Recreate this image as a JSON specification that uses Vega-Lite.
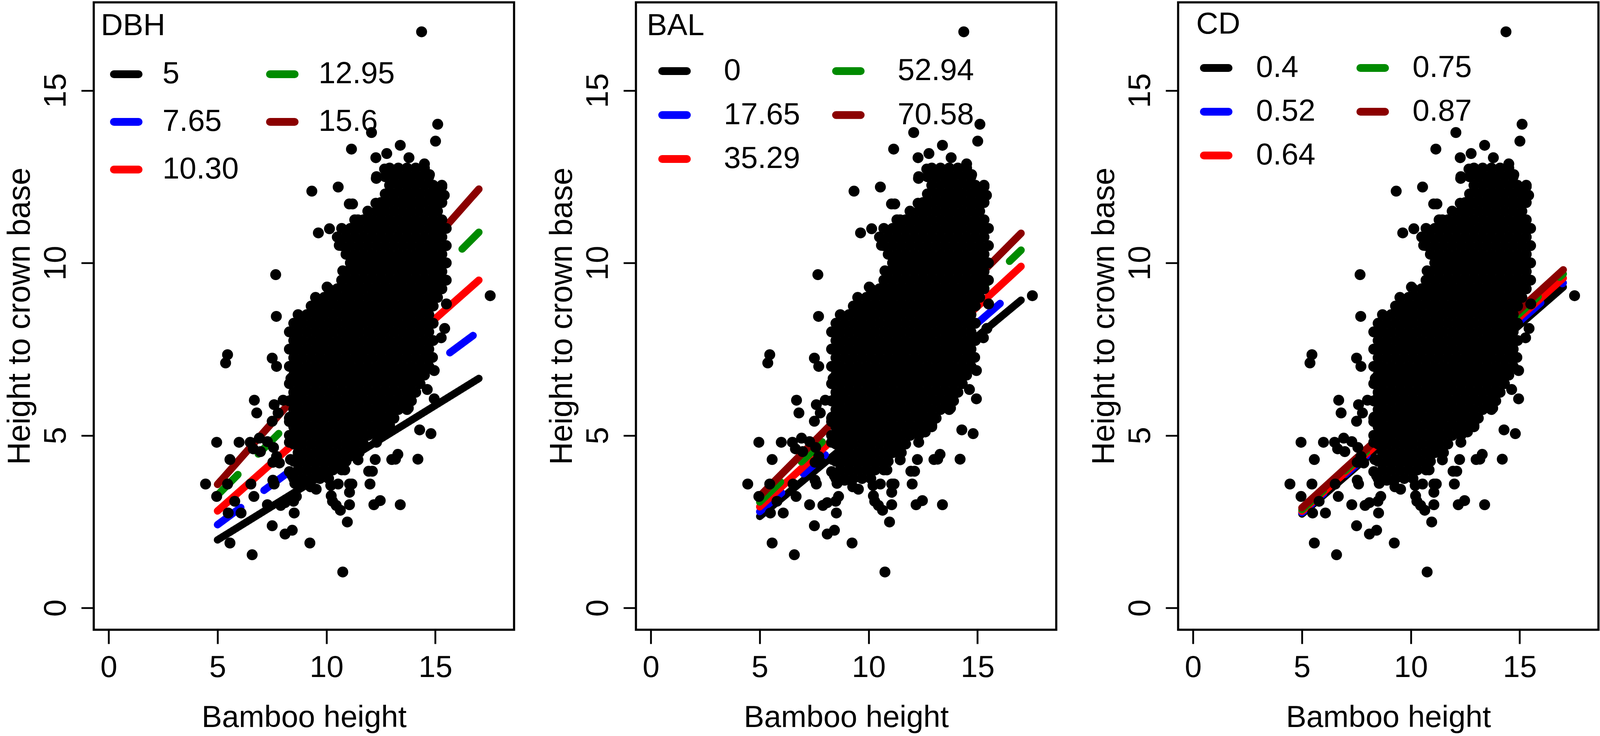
{
  "$schema": "https://vega.github.io/schema/vega-lite/v6.json",
  "autosize": {"type": "pad"},
  "padding": {"left": 8, "top": 3, "right": 0, "bottom": 0},
  "background": "white",
  "spacing": 312,
  "bounds": "flush",
  "resolve": {"scale": {"color": "independent", "strokeDash": "independent"}, "legend": {"color": "independent", "strokeDash": "independent"}},
  "datasets": {
    "dbh": [
      {"g":"5","x":5,"y":1.97},{"g":"5","x":17,"y":6.65},
      {"g":"7.65","x":5,"y":2.41},{"g":"7.65","x":17,"y":8.02},
      {"g":"10.30","x":5,"y":2.81},{"g":"10.30","x":17,"y":9.50},
      {"g":"12.95","x":5,"y":3.27},{"g":"12.95","x":17,"y":10.89},
      {"g":"15.6","x":5,"y":3.58},{"g":"15.6","x":17,"y":12.14}
    ],
    "bal": [
      {"g":"0","x":5,"y":2.65},{"g":"0","x":17,"y":8.92},
      {"g":"17.65","x":5,"y":2.79},{"g":"17.65","x":17,"y":9.35},
      {"g":"35.29","x":5,"y":2.93},{"g":"35.29","x":17,"y":9.90},
      {"g":"52.94","x":5,"y":3.07},{"g":"52.94","x":17,"y":10.37},
      {"g":"70.58","x":5,"y":3.24},{"g":"70.58","x":17,"y":10.86}
    ],
    "cd": [
      {"g":"0.4","x":5,"y":2.72},{"g":"0.4","x":17,"y":9.30},
      {"g":"0.52","x":5,"y":2.76},{"g":"0.52","x":17,"y":9.42},
      {"g":"0.64","x":5,"y":2.80},{"g":"0.64","x":17,"y":9.56},
      {"g":"0.75","x":5,"y":2.85},{"g":"0.75","x":17,"y":9.68},
      {"g":"0.87","x":5,"y":2.90},{"g":"0.87","x":17,"y":9.80}
    ],
    "pts": [
      {"x":12.9,"y":12.75},{"x":13.3,"y":12.75},{"x":13.7,"y":12.75},{"x":14.1,"y":12.75},{"x":14.5,"y":12.75},
      {"x":12.3,"y":12.5},{"x":12.7,"y":12.5},{"x":13.1,"y":12.5},{"x":13.5,"y":12.5},{"x":13.9,"y":12.5},{"x":14.3,"y":12.5},{"x":14.7,"y":12.5},
      {"x":12.9,"y":12.25},{"x":13.3,"y":12.25},{"x":13.7,"y":12.25},{"x":14.1,"y":12.25},{"x":14.5,"y":12.25},{"x":14.9,"y":12.25},{"x":15.3,"y":12.25},
      {"x":12.7,"y":12.0},{"x":13.1,"y":12.0},{"x":13.5,"y":12.0},{"x":13.9,"y":12.0},{"x":14.3,"y":12.0},{"x":14.7,"y":12.0},{"x":15.1,"y":12.0},
      {"x":12.5,"y":11.75},{"x":12.9,"y":11.75},{"x":13.3,"y":11.75},{"x":13.7,"y":11.75},{"x":14.1,"y":11.75},{"x":14.5,"y":11.75},{"x":14.9,"y":11.75},{"x":15.3,"y":11.75},
      {"x":11.9,"y":11.5},{"x":12.3,"y":11.5},{"x":12.7,"y":11.5},{"x":13.1,"y":11.5},{"x":13.5,"y":11.5},{"x":13.9,"y":11.5},{"x":14.3,"y":11.5},{"x":14.7,"y":11.5},{"x":15.1,"y":11.5},
      {"x":11.3,"y":11.25},{"x":11.7,"y":11.25},{"x":12.1,"y":11.25},{"x":12.5,"y":11.25},{"x":12.9,"y":11.25},{"x":13.3,"y":11.25},{"x":13.7,"y":11.25},{"x":14.1,"y":11.25},{"x":14.5,"y":11.25},{"x":14.9,"y":11.25},{"x":15.3,"y":11.25},
      {"x":10.7,"y":11.0},{"x":11.1,"y":11.0},{"x":11.5,"y":11.0},{"x":11.9,"y":11.0},{"x":12.3,"y":11.0},{"x":12.7,"y":11.0},{"x":13.1,"y":11.0},{"x":13.5,"y":11.0},{"x":13.9,"y":11.0},{"x":14.3,"y":11.0},{"x":14.7,"y":11.0},{"x":15.1,"y":11.0},{"x":15.5,"y":11.0},
      {"x":10.5,"y":10.75},{"x":10.9,"y":10.75},{"x":11.3,"y":10.75},{"x":11.7,"y":10.75},{"x":12.1,"y":10.75},{"x":12.5,"y":10.75},{"x":12.9,"y":10.75},{"x":13.3,"y":10.75},{"x":13.7,"y":10.75},{"x":14.1,"y":10.75},{"x":14.5,"y":10.75},{"x":14.9,"y":10.75},{"x":15.3,"y":10.75},
      {"x":10.7,"y":10.5},{"x":11.1,"y":10.5},{"x":11.5,"y":10.5},{"x":11.9,"y":10.5},{"x":12.3,"y":10.5},{"x":12.7,"y":10.5},{"x":13.1,"y":10.5},{"x":13.5,"y":10.5},{"x":13.9,"y":10.5},{"x":14.3,"y":10.5},{"x":14.7,"y":10.5},{"x":15.1,"y":10.5},{"x":15.5,"y":10.5},
      {"x":10.9,"y":10.25},{"x":11.3,"y":10.25},{"x":11.7,"y":10.25},{"x":12.1,"y":10.25},{"x":12.5,"y":10.25},{"x":12.9,"y":10.25},{"x":13.3,"y":10.25},{"x":13.7,"y":10.25},{"x":14.1,"y":10.25},{"x":14.5,"y":10.25},{"x":14.9,"y":10.25},{"x":15.3,"y":10.25},
      {"x":11.1,"y":10.0},{"x":11.5,"y":10.0},{"x":11.9,"y":10.0},{"x":12.3,"y":10.0},{"x":12.7,"y":10.0},{"x":13.1,"y":10.0},{"x":13.5,"y":10.0},{"x":13.9,"y":10.0},{"x":14.3,"y":10.0},{"x":14.7,"y":10.0},{"x":15.1,"y":10.0},{"x":15.5,"y":10.0},
      {"x":10.9,"y":9.75},{"x":11.3,"y":9.75},{"x":11.7,"y":9.75},{"x":12.1,"y":9.75},{"x":12.5,"y":9.75},{"x":12.9,"y":9.75},{"x":13.3,"y":9.75},{"x":13.7,"y":9.75},{"x":14.1,"y":9.75},{"x":14.5,"y":9.75},{"x":14.9,"y":9.75},{"x":15.3,"y":9.75},
      {"x":10.7,"y":9.5},{"x":11.1,"y":9.5},{"x":11.5,"y":9.5},{"x":11.9,"y":9.5},{"x":12.3,"y":9.5},{"x":12.7,"y":9.5},{"x":13.1,"y":9.5},{"x":13.5,"y":9.5},{"x":13.9,"y":9.5},{"x":14.3,"y":9.5},{"x":14.7,"y":9.5},{"x":15.1,"y":9.5},{"x":15.5,"y":9.5},
      {"x":10.1,"y":9.25},{"x":10.5,"y":9.25},{"x":10.9,"y":9.25},{"x":11.3,"y":9.25},{"x":11.7,"y":9.25},{"x":12.1,"y":9.25},{"x":12.5,"y":9.25},{"x":12.9,"y":9.25},{"x":13.3,"y":9.25},{"x":13.7,"y":9.25},{"x":14.1,"y":9.25},{"x":14.5,"y":9.25},{"x":14.9,"y":9.25},{"x":15.3,"y":9.25},
      {"x":9.5,"y":9.0},{"x":9.9,"y":9.0},{"x":10.3,"y":9.0},{"x":10.7,"y":9.0},{"x":11.1,"y":9.0},{"x":11.5,"y":9.0},{"x":11.9,"y":9.0},{"x":12.3,"y":9.0},{"x":12.7,"y":9.0},{"x":13.1,"y":9.0},{"x":13.5,"y":9.0},{"x":13.9,"y":9.0},{"x":14.3,"y":9.0},{"x":14.7,"y":9.0},{"x":15.1,"y":9.0},
      {"x":9.3,"y":8.75},{"x":9.7,"y":8.75},{"x":10.1,"y":8.75},{"x":10.5,"y":8.75},{"x":10.9,"y":8.75},{"x":11.3,"y":8.75},{"x":11.7,"y":8.75},{"x":12.1,"y":8.75},{"x":12.5,"y":8.75},{"x":12.9,"y":8.75},{"x":13.3,"y":8.75},{"x":13.7,"y":8.75},{"x":14.1,"y":8.75},{"x":14.5,"y":8.75},{"x":14.9,"y":8.75},
      {"x":8.7,"y":8.5},{"x":9.1,"y":8.5},{"x":9.5,"y":8.5},{"x":9.9,"y":8.5},{"x":10.3,"y":8.5},{"x":10.7,"y":8.5},{"x":11.1,"y":8.5},{"x":11.5,"y":8.5},{"x":11.9,"y":8.5},{"x":12.3,"y":8.5},{"x":12.7,"y":8.5},{"x":13.1,"y":8.5},{"x":13.5,"y":8.5},{"x":13.9,"y":8.5},{"x":14.3,"y":8.5},{"x":14.7,"y":8.5},
      {"x":8.5,"y":8.25},{"x":8.9,"y":8.25},{"x":9.3,"y":8.25},{"x":9.7,"y":8.25},{"x":10.1,"y":8.25},{"x":10.5,"y":8.25},{"x":10.9,"y":8.25},{"x":11.3,"y":8.25},{"x":11.7,"y":8.25},{"x":12.1,"y":8.25},{"x":12.5,"y":8.25},{"x":12.9,"y":8.25},{"x":13.3,"y":8.25},{"x":13.7,"y":8.25},{"x":14.1,"y":8.25},{"x":14.5,"y":8.25},{"x":14.9,"y":8.25},
      {"x":8.3,"y":8.0},{"x":8.7,"y":8.0},{"x":9.1,"y":8.0},{"x":9.5,"y":8.0},{"x":9.9,"y":8.0},{"x":10.3,"y":8.0},{"x":10.7,"y":8.0},{"x":11.1,"y":8.0},{"x":11.5,"y":8.0},{"x":11.9,"y":8.0},{"x":12.3,"y":8.0},{"x":12.7,"y":8.0},{"x":13.1,"y":8.0},{"x":13.5,"y":8.0},{"x":13.9,"y":8.0},{"x":14.3,"y":8.0},{"x":14.7,"y":8.0},
      {"x":8.5,"y":7.75},{"x":8.9,"y":7.75},{"x":9.3,"y":7.75},{"x":9.7,"y":7.75},{"x":10.1,"y":7.75},{"x":10.5,"y":7.75},{"x":10.9,"y":7.75},{"x":11.3,"y":7.75},{"x":11.7,"y":7.75},{"x":12.1,"y":7.75},{"x":12.5,"y":7.75},{"x":12.9,"y":7.75},{"x":13.3,"y":7.75},{"x":13.7,"y":7.75},{"x":14.1,"y":7.75},{"x":14.5,"y":7.75},{"x":14.9,"y":7.75},
      {"x":8.3,"y":7.5},{"x":8.7,"y":7.5},{"x":9.1,"y":7.5},{"x":9.5,"y":7.5},{"x":9.9,"y":7.5},{"x":10.3,"y":7.5},{"x":10.7,"y":7.5},{"x":11.1,"y":7.5},{"x":11.5,"y":7.5},{"x":11.9,"y":7.5},{"x":12.3,"y":7.5},{"x":12.7,"y":7.5},{"x":13.1,"y":7.5},{"x":13.5,"y":7.5},{"x":13.9,"y":7.5},{"x":14.3,"y":7.5},{"x":14.7,"y":7.5},
      {"x":8.5,"y":7.25},{"x":8.9,"y":7.25},{"x":9.3,"y":7.25},{"x":9.7,"y":7.25},{"x":10.1,"y":7.25},{"x":10.5,"y":7.25},{"x":10.9,"y":7.25},{"x":11.3,"y":7.25},{"x":11.7,"y":7.25},{"x":12.1,"y":7.25},{"x":12.5,"y":7.25},{"x":12.9,"y":7.25},{"x":13.3,"y":7.25},{"x":13.7,"y":7.25},{"x":14.1,"y":7.25},{"x":14.5,"y":7.25},
      {"x":8.3,"y":7.0},{"x":8.7,"y":7.0},{"x":9.1,"y":7.0},{"x":9.5,"y":7.0},{"x":9.9,"y":7.0},{"x":10.3,"y":7.0},{"x":10.7,"y":7.0},{"x":11.1,"y":7.0},{"x":11.5,"y":7.0},{"x":11.9,"y":7.0},{"x":12.3,"y":7.0},{"x":12.7,"y":7.0},{"x":13.1,"y":7.0},{"x":13.5,"y":7.0},{"x":13.9,"y":7.0},{"x":14.3,"y":7.0},{"x":14.7,"y":7.0},
      {"x":8.5,"y":6.75},{"x":8.9,"y":6.75},{"x":9.3,"y":6.75},{"x":9.7,"y":6.75},{"x":10.1,"y":6.75},{"x":10.5,"y":6.75},{"x":10.9,"y":6.75},{"x":11.3,"y":6.75},{"x":11.7,"y":6.75},{"x":12.1,"y":6.75},{"x":12.5,"y":6.75},{"x":12.9,"y":6.75},{"x":13.3,"y":6.75},{"x":13.7,"y":6.75},{"x":14.1,"y":6.75},{"x":14.5,"y":6.75},
      {"x":8.3,"y":6.5},{"x":8.7,"y":6.5},{"x":9.1,"y":6.5},{"x":9.5,"y":6.5},{"x":9.9,"y":6.5},{"x":10.3,"y":6.5},{"x":10.7,"y":6.5},{"x":11.1,"y":6.5},{"x":11.5,"y":6.5},{"x":11.9,"y":6.5},{"x":12.3,"y":6.5},{"x":12.7,"y":6.5},{"x":13.1,"y":6.5},{"x":13.5,"y":6.5},{"x":13.9,"y":6.5},{"x":14.3,"y":6.5},
      {"x":8.5,"y":6.25},{"x":8.9,"y":6.25},{"x":9.3,"y":6.25},{"x":9.7,"y":6.25},{"x":10.1,"y":6.25},{"x":10.5,"y":6.25},{"x":10.9,"y":6.25},{"x":11.3,"y":6.25},{"x":11.7,"y":6.25},{"x":12.1,"y":6.25},{"x":12.5,"y":6.25},{"x":12.9,"y":6.25},{"x":13.3,"y":6.25},{"x":13.7,"y":6.25},{"x":14.1,"y":6.25},
      {"x":8.3,"y":6.0},{"x":8.7,"y":6.0},{"x":9.1,"y":6.0},{"x":9.5,"y":6.0},{"x":9.9,"y":6.0},{"x":10.3,"y":6.0},{"x":10.7,"y":6.0},{"x":11.1,"y":6.0},{"x":11.5,"y":6.0},{"x":11.9,"y":6.0},{"x":12.3,"y":6.0},{"x":12.7,"y":6.0},{"x":13.1,"y":6.0},{"x":13.5,"y":6.0},{"x":13.9,"y":6.0},
      {"x":8.5,"y":5.75},{"x":8.9,"y":5.75},{"x":9.3,"y":5.75},{"x":9.7,"y":5.75},{"x":10.1,"y":5.75},{"x":10.5,"y":5.75},{"x":10.9,"y":5.75},{"x":11.3,"y":5.75},{"x":11.7,"y":5.75},{"x":12.1,"y":5.75},{"x":12.5,"y":5.75},{"x":12.9,"y":5.75},{"x":13.3,"y":5.75},{"x":13.7,"y":5.75},
      {"x":8.3,"y":5.5},{"x":8.7,"y":5.5},{"x":9.1,"y":5.5},{"x":9.5,"y":5.5},{"x":9.9,"y":5.5},{"x":10.3,"y":5.5},{"x":10.7,"y":5.5},{"x":11.1,"y":5.5},{"x":11.5,"y":5.5},{"x":11.9,"y":5.5},{"x":12.3,"y":5.5},{"x":12.7,"y":5.5},{"x":13.1,"y":5.5},
      {"x":8.5,"y":5.25},{"x":8.9,"y":5.25},{"x":9.3,"y":5.25},{"x":9.7,"y":5.25},{"x":10.1,"y":5.25},{"x":10.5,"y":5.25},{"x":10.9,"y":5.25},{"x":11.3,"y":5.25},{"x":11.7,"y":5.25},{"x":12.1,"y":5.25},{"x":12.5,"y":5.25},{"x":12.9,"y":5.25},
      {"x":8.3,"y":5.0},{"x":8.7,"y":5.0},{"x":9.1,"y":5.0},{"x":9.5,"y":5.0},{"x":9.9,"y":5.0},{"x":10.3,"y":5.0},{"x":10.7,"y":5.0},{"x":11.1,"y":5.0},{"x":11.5,"y":5.0},{"x":11.9,"y":5.0},{"x":12.3,"y":5.0},
      {"x":8.5,"y":4.75},{"x":8.9,"y":4.75},{"x":9.3,"y":4.75},{"x":9.7,"y":4.75},{"x":10.1,"y":4.75},{"x":10.5,"y":4.75},{"x":10.9,"y":4.75},{"x":11.3,"y":4.75},{"x":11.7,"y":4.75},
      {"x":8.7,"y":4.5},{"x":9.1,"y":4.5},{"x":9.5,"y":4.5},{"x":9.9,"y":4.5},{"x":10.3,"y":4.5},{"x":10.7,"y":4.5},{"x":11.1,"y":4.5},{"x":11.5,"y":4.5},
      {"x":8.5,"y":4.25},{"x":8.9,"y":4.25},{"x":9.3,"y":4.25},{"x":9.7,"y":4.25},{"x":10.1,"y":4.25},{"x":10.5,"y":4.25},{"x":10.9,"y":4.25},
      {"x":8.7,"y":4.0},{"x":9.1,"y":4.0},{"x":9.5,"y":4.0},{"x":9.9,"y":4.0},{"x":10.3,"y":4.0},{"x":10.7,"y":4.0},
      {"x":8.5,"y":3.75},{"x":8.9,"y":3.75},{"x":9.3,"y":3.75},{"x":9.7,"y":3.75},{"x":10.1,"y":3.75},
      {"x":12.6,"y":5.1},{"x":12.9,"y":5.3},{"x":12.3,"y":4.8},{"x":8.3,"y":4.8},{"x":8.3,"y":5.4},{"x":8.3,"y":6.0},{"x":8.35,"y":4.3},{"x":8.3,"y":3.95},
      {"x":14.37,"y":16.70},{"x":15.11,"y":14.02},{"x":15.01,"y":13.53},{"x":12.07,"y":13.78},{"x":11.15,"y":13.30},{"x":13.39,"y":13.41},{"x":12.77,"y":13.17},{"x":12.27,"y":13.05},{"x":13.79,"y":13.05},
      {"x":9.33,"y":12.08},{"x":10.54,"y":12.20},{"x":11.05,"y":11.71},{"x":11.20,"y":11.71},{"x":9.63,"y":10.87},{"x":10.14,"y":10.99},{"x":12.67,"y":12.72},{"x":12.29,"y":12.45},{"x":13.17,"y":12.56},
      {"x":14.50,"y":12.87},{"x":14.73,"y":12.56},{"x":15.30,"y":12.21},{"x":15.41,"y":11.96},{"x":11.45,"y":11.25},{"x":12.27,"y":11.73},{"x":12.55,"y":11.73},{"x":10.59,"y":10.51},{"x":11.17,"y":10.03},
      {"x":10.75,"y":9.77},{"x":10.03,"y":9.30},{"x":15.51,"y":8.81},{"x":17.52,"y":9.05},{"x":7.67,"y":9.66},{"x":7.70,"y":8.45},{"x":5.46,"y":7.34},{"x":5.37,"y":7.10},
      {"x":7.51,"y":7.24},{"x":7.71,"y":7.00},{"x":8.32,"y":7.00},{"x":8.37,"y":6.65},{"x":8.52,"y":6.17},{"x":6.69,"y":6.02},{"x":6.80,"y":5.65},{"x":7.60,"y":5.89},{"x":8.01,"y":6.02},
      {"x":7.78,"y":5.65},{"x":7.51,"y":5.41},{"x":8.32,"y":5.53},{"x":4.96,"y":4.80},{"x":5.99,"y":4.80},{"x":6.50,"y":4.80},{"x":6.64,"y":4.61},{"x":6.92,"y":4.92},{"x":7.29,"y":4.82},
      {"x":5.57,"y":4.30},{"x":7.57,"y":4.65},{"x":7.71,"y":4.39},{"x":7.54,"y":4.22},{"x":7.84,"y":4.20},{"x":6.97,"y":4.53},{"x":4.45,"y":3.59},{"x":5.46,"y":3.59},{"x":4.96,"y":3.23},
      {"x":6.53,"y":3.59},{"x":6.67,"y":3.23},{"x":5.79,"y":3.09},{"x":5.49,"y":2.75},{"x":6.08,"y":2.75},{"x":7.54,"y":3.70},{"x":7.60,"y":3.59},{"x":8.43,"y":3.83},{"x":8.55,"y":3.61},
      {"x":7.29,"y":2.99},{"x":7.90,"y":2.97},{"x":8.52,"y":2.75},{"x":8.49,"y":3.09},{"x":8.62,"y":3.23},{"x":7.51,"y":2.38},{"x":8.10,"y":2.14},{"x":8.43,"y":2.25},{"x":5.57,"y":1.88},
      {"x":6.59,"y":1.54},{"x":9.24,"y":1.88},{"x":10.75,"y":1.04},{"x":10.96,"y":2.49},{"x":10.22,"y":3.25},{"x":10.28,"y":3.09},{"x":10.64,"y":2.83},{"x":10.45,"y":2.97},
      {"x":11.06,"y":3.59},{"x":11.06,"y":3.35},{"x":11.06,"y":2.99},{"x":10.54,"y":3.59},{"x":11.17,"y":3.59},{"x":12.00,"y":3.59},{"x":12.24,"y":4.30},{"x":12.11,"y":3.96},{"x":11.94,"y":3.96},
      {"x":12.18,"y":2.99},{"x":12.47,"y":3.11},{"x":13.00,"y":4.30},{"x":13.28,"y":4.45},{"x":13.17,"y":4.31},{"x":14.20,"y":4.31},{"x":13.39,"y":2.99},{"x":14.28,"y":5.16},{"x":14.80,"y":5.05},
      {"x":10.84,"y":4.00},{"x":11.45,"y":4.29},{"x":9.27,"y":3.51},{"x":9.53,"y":3.44},{"x":8.90,"y":3.70},{"x":10.20,"y":3.55},{"x":8.10,"y":3.05},
      {"x":14.95,"y":6.06},{"x":14.87,"y":7.26},{"x":15.43,"y":8.10},{"x":15.27,"y":7.83},{"x":14.95,"y":6.88},{"x":14.63,"y":6.33},{"x":13.84,"y":6.06},{"x":13.76,"y":5.79}
    ]
  },
  "config": {
    "font": "Liberation Sans",
    "view": {"stroke": "black", "strokeWidth": 5.5},
    "axis": {
      "grid": false, "domain": false, "ticks": true, "tickColor": "black", "tickWidth": 4.7,
      "labelFont": "Liberation Sans", "labelColor": "black", "format": "d",
      "titleFont": "Liberation Sans", "titleFontWeight": "normal", "titleColor": "black",
      "labelOverlap": false, "labelFlush": false, "labelBound": false
    },
    "axisX": {"tickSize": 36, "labelFontSize": 78, "titleFontSize": 78, "labelAngle": 0, "labelPadding": 22.2, "labelBaseline": "top", "labelAlign": "center", "titleY": 248, "titleBaseline": "alphabetic"},
    "axisY": {"tickSize": 32, "labelFontSize": 80, "titleFontSize": 81, "labelAngle": 270, "labelAlign": "center", "labelBaseline": "alphabetic", "labelPadding": 40.8, "titleAngle": 270, "titleX": -164.2, "titleBaseline": "alphabetic", "titleAlign": "center"},
    "legend": {
      "orient": "none", "columns": 2, "symbolType": "stroke", "symbolSize": 3994, "symbolStrokeWidth": 20,
      "labelFont": "Liberation Sans", "labelFontSize": 78, "labelColor": "black", "labelLimit": 0,
      "titleFont": "Liberation Sans", "titleFontSize": 78, "titleFontWeight": "normal", "titleColor": "black", "titleLimit": 2000,
      "titleAnchor": "start", "titleAlign": "left", "padding": 0, "gridAlign": "each"
    }
  },
  "hconcat": [
    {
      "width": 1076, "height": 1606,
      "layer": [
        {
          "data": {"name": "dbh"},
          "mark": {"type": "line", "strokeWidth": 19, "strokeCap": "round"},
          "encoding": {
            "x": {"field": "x", "type": "quantitative", "scale": {"domain": [-0.684, 18.616], "nice": false, "zero": false}, "axis": {"values": [0, 5, 10, 15], "title": "Bamboo height"}},
            "y": {"field": "y", "type": "quantitative", "scale": {"domain": [-0.634, 17.554], "nice": false, "zero": false}, "axis": {"values": [0, 5, 10, 15], "title": "Height to crown base"}},
            "color": {"field": "g", "type": "nominal",
              "scale": {"domain": ["5", "7.65", "10.30", "12.95", "15.6"], "range": ["#000000", "#0000FF", "#FF0000", "#008B00", "#8B0000"]},
              "legend": {"title": "DBH", "legendX": 18.3, "legendY": 22.4, "symbolOffset": 22.9, "labelOffset": 50.7, "columnPadding": 39.5, "rowPadding": 40, "titlePadding": 41.6,
                "labelExpr": "datum.label == '5' ? '\u00a0' + datum.label : (datum.label == '12.95' || datum.label == '15.6') ? '\u00a0\u00a0' + datum.label : datum.label",
                "encode": {"symbols": {"update": {"strokeCap": {"value": "round"}, "strokeDash": {"value": [1, 0]}}}}}},
            "strokeDash": {"field": "g", "type": "nominal",
              "scale": {"domain": ["5", "7.65", "10.30", "12.95", "15.6"], "range": [[1, 0], [74, 74], [1, 0], [74, 74], [1, 0]]},
              "legend": null}
          }
        },
        {
          "data": {"name": "pts"},
          "mark": {"type": "circle", "size": 784, "color": "black", "opacity": 1},
          "encoding": {
            "x": {"field": "x", "type": "quantitative"},
            "y": {"field": "y", "type": "quantitative"}
          }
        }
      ]
    },
    {
      "width": 1076, "height": 1606,
      "layer": [
        {
          "data": {"name": "bal"},
          "mark": {"type": "line", "strokeWidth": 19, "strokeCap": "round"},
          "encoding": {
            "x": {"field": "x", "type": "quantitative", "scale": {"domain": [-0.684, 18.616], "nice": false, "zero": false}, "axis": {"values": [0, 5, 10, 15], "title": "Bamboo height"}},
            "y": {"field": "y", "type": "quantitative", "scale": {"domain": [-0.634, 17.554], "nice": false, "zero": false}, "axis": {"values": [0, 5, 10, 15], "title": "Height to crown base"}},
            "color": {"field": "g", "type": "nominal",
              "scale": {"domain": ["0", "17.65", "35.29", "52.94", "70.58"], "range": ["#000000", "#0000FF", "#FF0000", "#008B00", "#8B0000"]},
              "legend": {"title": "BAL", "legendX": 27.8, "legendY": 22.4, "symbolOffset": 29, "labelOffset": 84.3, "columnPadding": 51, "rowPadding": 30.5, "titlePadding": 33.6,
                "labelExpr": "datum.label == '0' ? '\u00a0\u00a0' + datum.label : datum.label",
                "encode": {"symbols": {"update": {"strokeCap": {"value": "round"}, "strokeDash": {"value": [1, 0]}}}}}},
            "strokeDash": {"field": "g", "type": "nominal",
              "scale": {"domain": ["0", "17.65", "35.29", "52.94", "70.58"], "range": [[1, 0], [74, 74], [1, 0], [74, 74], [1, 0]]},
              "legend": null}
          }
        },
        {
          "data": {"name": "pts"},
          "mark": {"type": "circle", "size": 784, "color": "black", "opacity": 1},
          "encoding": {
            "x": {"field": "x", "type": "quantitative"},
            "y": {"field": "y", "type": "quantitative"}
          }
        }
      ]
    },
    {
      "width": 1076, "height": 1606,
      "layer": [
        {
          "data": {"name": "cd"},
          "mark": {"type": "line", "strokeWidth": 19, "strokeCap": "round"},
          "encoding": {
            "x": {"field": "x", "type": "quantitative", "scale": {"domain": [-0.684, 18.616], "nice": false, "zero": false}, "axis": {"values": [0, 5, 10, 15], "title": "Bamboo height"}},
            "y": {"field": "y", "type": "quantitative", "scale": {"domain": [-0.634, 17.554], "nice": false, "zero": false}, "axis": {"values": [0, 5, 10, 15], "title": "Height to crown base"}},
            "color": {"field": "g", "type": "nominal",
              "scale": {"domain": ["0.4", "0.52", "0.64", "0.75", "0.87"], "range": ["#000000", "#0000FF", "#FF0000", "#008B00", "#8B0000"]},
              "legend": {"title": "CD", "legendX": 46.3, "legendY": 18.4, "symbolOffset": 9.2, "labelOffset": 60, "columnPadding": 73.6, "rowPadding": 30, "titlePadding": 29.6,
                "encode": {"symbols": {"update": {"strokeCap": {"value": "round"}, "strokeDash": {"value": [1, 0]}}}}}},
            "strokeDash": {"field": "g", "type": "nominal",
              "scale": {"domain": ["0.4", "0.52", "0.64", "0.75", "0.87"], "range": [[1, 0], [74, 74], [1, 0], [74, 74], [1, 0]]},
              "legend": null}
          }
        },
        {
          "data": {"name": "pts"},
          "mark": {"type": "circle", "size": 784, "color": "black", "opacity": 1},
          "encoding": {
            "x": {"field": "x", "type": "quantitative"},
            "y": {"field": "y", "type": "quantitative"}
          }
        }
      ]
    }
  ]
}
